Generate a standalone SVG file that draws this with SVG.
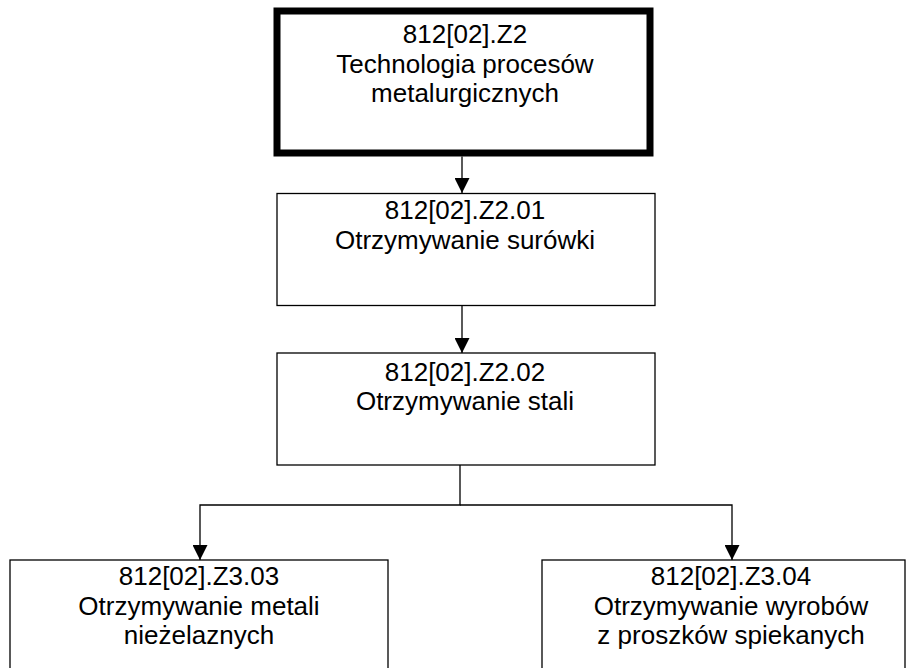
<svg xmlns="http://www.w3.org/2000/svg" width="907" height="668" viewBox="0 0 907 668">
  <style>
    .box { fill: #ffffff; stroke: #000000; stroke-width: 1.3; }
    .main { fill: #ffffff; stroke: #000000; stroke-width: 7; }
    .lbl { font-family: "Liberation Sans", Arial, sans-serif; font-size: 26px; fill: #000000; text-anchor: middle; }
    .con { fill: none; stroke: #000000; stroke-width: 1.3; }
  </style>
  <defs>
    <marker id="arr" markerUnits="userSpaceOnUse" markerWidth="15" markerHeight="15" refX="15" refY="7.5" orient="auto">
      <path d="M0,0 L15,7.5 L0,15 z" fill="#000000"/>
    </marker>
  </defs>
  <rect width="907" height="668" fill="#ffffff"/>

  <g id="connectors">
    <line class="con" x1="462" y1="156.5" x2="462" y2="193" marker-end="url(#arr)"/>
    <line class="con" x1="462" y1="306" x2="462" y2="353" marker-end="url(#arr)"/>
    <polyline class="con" points="460,465 460,505 200,505 200,560" marker-end="url(#arr)"/>
    <polyline class="con" points="460,505 732,505 732,560" marker-end="url(#arr)"/>
  </g>

  <g id="node-z2">
    <rect class="main" x="277" y="11" width="373" height="142"/>
    <text class="lbl" x="465" y="43">812[02].Z2</text>
    <text class="lbl" x="465" y="73">Technologia procesów</text>
    <text class="lbl" x="465" y="102">metalurgicznych</text>
  </g>

  <g id="node-z2-01">
    <rect class="box" x="277" y="193.5" width="378" height="112"/>
    <text class="lbl" x="465" y="219">812[02].Z2.01</text>
    <text class="lbl" x="465" y="249">Otrzymywanie surówki</text>
  </g>

  <g id="node-z2-02">
    <rect class="box" x="277" y="353" width="378" height="112"/>
    <text class="lbl" x="465" y="381">812[02].Z2.02</text>
    <text class="lbl" x="465" y="410">Otrzymywanie stali</text>
  </g>

  <g id="node-z3-03">
    <rect class="box" x="10" y="560" width="378" height="113"/>
    <text class="lbl" x="199" y="585">812[02].Z3.03</text>
    <text class="lbl" x="199" y="615">Otrzymywanie metali</text>
    <text class="lbl" x="199" y="644">nieżelaznych</text>
  </g>

  <g id="node-z3-04">
    <rect class="box" x="542" y="560" width="363" height="113"/>
    <text class="lbl" x="731" y="585">812[02].Z3.04</text>
    <text class="lbl" x="731" y="615">Otrzymywanie wyrobów</text>
    <text class="lbl" x="731" y="644">z proszków spiekanych</text>
  </g>
</svg>
